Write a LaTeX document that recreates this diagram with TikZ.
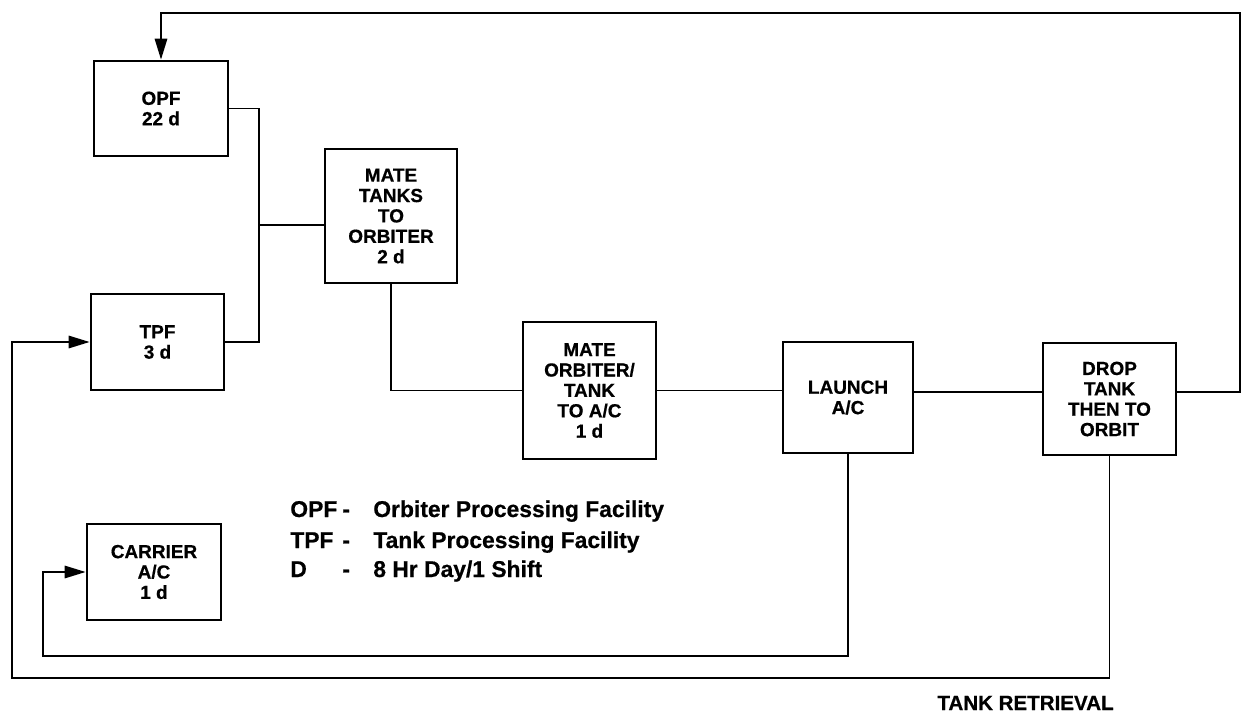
\documentclass[tikz,border=0pt]{standalone}
\usepackage{fontspec}
\setmainfont{Liberation Sans}[BoldFeatures={FakeBold=0.6}]
\usetikzlibrary{arrows.meta,positioning,calc}

\begin{document}
\begin{tikzpicture}[
  x=0.02cm, y=-0.02cm,
  font=\bfseries,
  box/.style={draw,line width=1.6pt,align=center,inner sep=0pt,
    font=\fontsize{10.8}{11.6}\selectfont\bfseries},
  ln/.style={line width=0.95pt},
  ar/.style={ln,-{Triangle[length=4.2mm,width=2.5mm]}},
  leg/.style={anchor=base west,inner sep=0pt,font=\fontsize{13}{15}\selectfont\bfseries}
]
\useasboundingbox (0,0) rectangle (1248,713);

% ---------------- left column: facilities
\node[box,minimum width=2.68cm,minimum height=1.90cm] (opf) at (161,108.5) {OPF\\22 d};
\node[box,minimum width=2.66cm,minimum height=1.92cm] (tpf) at (157.5,342) {TPF\\3 d};
\node[box,minimum width=2.68cm,minimum height=1.92cm] (car) at (154,572) {CARRIER\\A/C\\1 d};

% ---------------- mating, launch, drop
\node[box,minimum width=2.64cm,minimum height=2.68cm] (mt) at (391,216) {MATE\\TANKS\\TO\\ORBITER\\2 d};
\node[box,minimum width=2.66cm,minimum height=2.74cm] (mo) at (589.5,390.5) {MATE\\ORBITER/\\TANK\\TO A/C\\1 d};
\node[box,minimum width=2.60cm,minimum height=2.22cm] (la) at (848,397.5) {LAUNCH\\A/C};
\node[box,minimum width=2.66cm,minimum height=2.24cm] (dr) at (1109.5,399) {DROP\\TANK\\THEN TO\\ORBIT};

% ---------------- legend
\foreach \i/\ab/\dfn/\yy in {1/OPF/{Orbiter Processing Facility}/517,
                             2/TPF/{Tank Processing Facility}/548,
                             3/D/{8 Hr Day/1 Shift}/577}{
  \node[leg] (ab\i) at (290,\yy) {\ab};
  \node[leg] (ds\i) at (342,\yy) {-};
  \node[leg] (df\i) at (373,\yy) {\dfn};
}

% ---------------- flow lines
\coordinate (jn) at (259,225);
\coordinate (row) at (0,392);
\coordinate (tr) at (1240,13);
\coordinate (lpa) at (43,656);
\coordinate (lpb) at (12,678);

\draw[ln] (opf.east) -| (jn) |- (tpf.east);
\draw[ln] (jn) -- (jn -| mt.west);
\draw[ln] (mt.south) |- (mo.west);
\draw[ln] (mo.east) -- (mo.east -| la.west);
\draw[ln] (la.east |- row) -- (dr.west |- row);
% return loops
\draw[ar] (dr.east |- row) -| (tr) -| (opf.north);
\draw[ar] (la.south) |- (lpa) |- (car.west);
\draw[ar] (dr.south) |- (lpb) |- (tpf.west);

\node[anchor=base east,inner sep=0pt,font=\fontsize{11.7}{14}\selectfont\bfseries]
  (ret) at (1114,710) {TANK RETRIEVAL};
\end{tikzpicture}
\end{document}
